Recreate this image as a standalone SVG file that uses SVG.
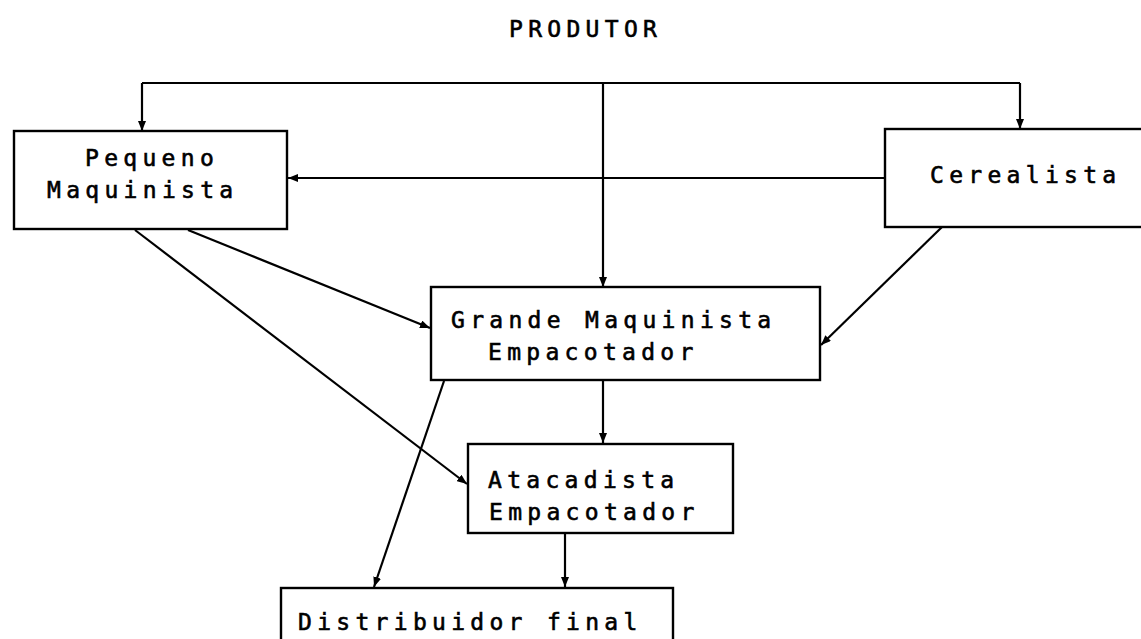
<svg xmlns="http://www.w3.org/2000/svg" width="1141" height="639" viewBox="0 0 1141 639">
  <style>
    .box { fill: #ffffff; stroke: #000000; stroke-width: 2.4; }
    .lbl { font-family: "DejaVu Sans Mono", "Liberation Mono", monospace; font-size: 23px; letter-spacing: 5.3px; fill: #000000; stroke: #000000; stroke-width: 0.6; }
    .edge { fill: none; stroke: #000000; stroke-width: 2.2; marker-end: url(#arrow); }
    .plain { fill: none; stroke: #000000; stroke-width: 2.2; }
  </style>
  <defs>
    <marker id="arrow" markerUnits="userSpaceOnUse" markerWidth="10" markerHeight="8" refX="10" refY="4" orient="auto">
      <path d="M0,0 L10,4 L0,8 z" fill="#000000"/>
    </marker>
  </defs>
  <rect width="1141" height="639" fill="#ffffff"/>

  <!-- source label -->
  <g id="produtor">
    <text class="lbl" x="509" y="37">PRODUTOR</text>
  </g>

  <!-- connectors -->
  <g id="connectors">
    <line class="plain" x1="142" y1="83" x2="1020" y2="83"/>
    <line class="edge" x1="142" y1="83" x2="142" y2="131"/>
    <line class="edge" x1="1020" y1="83" x2="1020" y2="129"/>
    <line class="edge" x1="603" y1="83" x2="603" y2="287"/>
    <line class="edge" x1="885" y1="178" x2="288" y2="178"/>
    <line class="edge" x1="188" y1="230" x2="430" y2="328"/>
    <line class="edge" x1="135" y1="230" x2="467" y2="484"/>
    <line class="edge" x1="942" y1="227" x2="821" y2="345"/>
    <line class="edge" x1="603" y1="381" x2="603" y2="443"/>
    <line class="edge" x1="444" y1="381" x2="374" y2="587"/>
    <line class="edge" x1="565" y1="533" x2="565" y2="587"/>
  </g>

  <g id="pequeno">
    <rect class="box" x="14" y="131" width="273" height="98"/>
    <text class="lbl" x="85" y="166">Pequeno</text>
    <text class="lbl" x="47" y="198">Maquinista</text>
  </g>

  <g id="cerealista">
    <rect class="box" x="885" y="129" width="262" height="98"/>
    <text class="lbl" x="930" y="183">Cerealista</text>
  </g>

  <g id="grande">
    <rect class="box" x="431" y="287" width="389" height="93"/>
    <text class="lbl" x="451" y="328">Grande Maquinista</text>
    <text class="lbl" x="488" y="360">Empacotador</text>
  </g>

  <g id="atacadista">
    <rect class="box" x="468" y="444" width="265" height="89"/>
    <text class="lbl" x="488" y="488">Atacadista</text>
    <text class="lbl" x="489" y="520">Empacotador</text>
  </g>

  <g id="distribuidor">
    <rect class="box" x="281" y="588" width="392" height="60"/>
    <text class="lbl" x="298" y="630">Distribuidor final</text>
  </g>
</svg>
